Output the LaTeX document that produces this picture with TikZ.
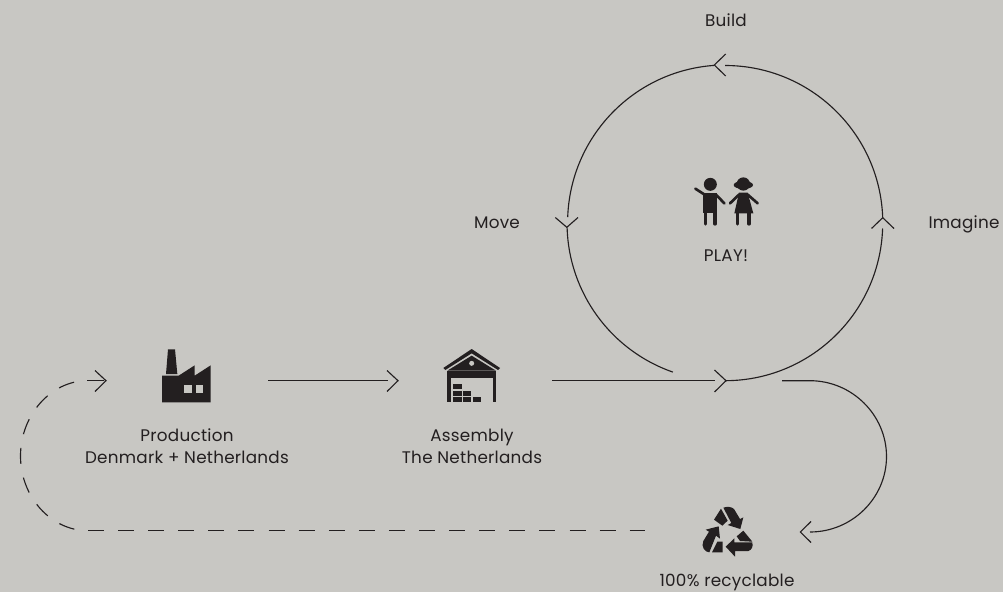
\documentclass[tikz,border=0pt]{standalone}
\usepackage{fontspec}
\setmainfont[LetterSpace=1.5]{Poppins}
\definecolor{bgc}{HTML}{C8C7C3}
\definecolor{ink}{HTML}{231F20}
\tikzset{
  lbl/.style={text=ink,font=\fontsize{12.6}{16.3}\selectfont,align=center,inner sep=0pt},
  lin/.style={draw=ink,line width=0.85pt,line cap=butt},
  chev/.style={draw=ink,line width=0.85pt,line join=miter},
  dsh/.style={draw=ink,line width=0.85pt},
  icon/.style={fill=ink,draw=none},
  cut/.style={fill=bgc,draw=none},
  zoomed/.style={x=0.25pt,y=-0.25pt}
}
\begin{document}
\begin{tikzpicture}[x=0.75pt,y=-0.75pt]
\fill[bgc] (0,0) rectangle (1003,592);
\useasboundingbox (0,0) rectangle (1003,592);
% labels
\node[lbl,anchor=base] (build) at (726,26.5) {Build};
\node[lbl,anchor=base] (move) at (497,228) {Move};
\node[lbl,anchor=base] (imagine) at (964,228) {Imagine};
\node[lbl,anchor=base] (play) at (726,261.5) {PLAY!};
\node[lbl] (prod) at (187,446) {Production\\Denmark + Netherlands};
\node[lbl] (asm) at (472,446) {Assembly\\The Netherlands};
\node[lbl,anchor=base] (rec) at (727,586.5) {100\% recyclable};
% coordinates
\coordinate (cbot) at (725,380.7);
\coordinate (ctip) at (726,380.7);
\coordinate (p1s) at (268,380.7);
\coordinate (p1w) at (387.5,380.7);
\coordinate (p1e) at (398,380.7);
\coordinate (p2s) at (552,380.7);
\coordinate (p2w) at (714.5,380.7);
\coordinate (q1) at (782,380.7);
\coordinate (q2) at (810,380.7);
\coordinate (q3) at (810,532);
\coordinate (d1) at (645,530.7);
\coordinate (d2) at (88,530.7);
\coordinate (d3) at (87.3,380.7);
\coordinate (d4) at (104,380.7);
\coordinate (d5) at (106,380.7);
% circle: four arcs, broken at the arrowheads
\draw[lin] (cbot) arc[start angle=90,end angle=2.0,radius=157.7];
\draw[lin] (882.7,217.7) arc[start angle=-2,end angle=-90,radius=157.7];
\draw[lin] (714.3,65.4) arc[start angle=-94,end angle=-178,radius=157.7];
\draw[lin] (567.1,227.3) arc[start angle=178.5,end angle=109.2,radius=157.7];
% arrows on circle
\draw[chev] (725.7,54) -- (714.3,65) -- (725.7,76);
\draw[chev] (555.3,217.5) -- (566.8,227.3) -- (578,217.5);
\draw[chev] (871.5,228.5) -- (882.7,217.7) -- (894,228.5);
% straight connectors
\draw[lin] (p1s) -- (p1w);
\draw[chev] (387,370.5) -- (p1e) -- (387,391.5);
\draw[lin] (p2s) -- (p2w);
\draw[chev] (714.5,370) -- (ctip) -- (714.5,392);
% right curve
\draw[lin] (q1) -- (q2) .. controls (852,380.7) and (886.5,415) .. (886.5,456.5) .. controls (886.5,498) and (852,532) .. (q3);
\draw[chev] (811,521.5) -- (800.3,532) -- (811,542.5);
% dashed return
\draw[dsh,dash pattern=on 12pt off 10.57pt] (d2) -- (d1);
\draw[dsh,dash pattern=on 12pt off 10.5pt,dash phase=12.5pt] (d3) .. controls (51,380.7) and (20.5,415) .. (20.5,456) .. controls (20.5,497) and (51,530.7) .. (d2);
\draw[lin] (d3) -- (d4);
\draw[chev] (95,370.5) -- (d5) -- (95,391.5);
% factory
\begin{scope}[shift={(140,340)},zoomed]
\fill[icon] (78,102) -- (84,28) -- (105,28) -- (112,102) -- cycle;
\fill[icon] (66,107) -- (116,107) -- (164,76) -- (164,107) -- (212,76) -- (212,187) -- (66,187) -- cycle;
\fill[cut] (133,136) rectangle (157,159);
\fill[cut] (167,136) rectangle (190,159);
\end{scope}
% warehouse
\begin{scope}[shift={(430,340)},zoomed]
\fill[icon] (125,27) -- (210,84) -- (204,90) -- (125,40) -- (46,90) -- (40,84) -- cycle;
\fill[icon] (125,47) -- (198,92) -- (52,92) -- cycle;
\fill[icon] (52,94) rectangle (198,114);
\fill[icon] (52,114) rectangle (62,187);
\fill[icon] (188,114) rectangle (198,187);
\fill[cut] (125,70) circle[radius=7.5];
\fill[icon] (70,133) rectangle (95,148);
\fill[icon] (70,152) rectangle (95,168);
\fill[icon] (99,152) rectangle (124,168);
\fill[icon] (70,172) rectangle (95,187);
\fill[icon] (99,172) rectangle (124,187);
\fill[icon] (128,172) rectangle (153,187);
\end{scope}
% recycle
\begin{scope}[shift={(690,495)},zoomed]
\fill[icon] (100,38) .. controls (112,34) and (125,35) .. (132,42) -- (150,72) -- (160,67) -- (151,102) -- (113,90) -- (124,84) -- cycle;
\fill[icon] (93,41) -- (113,77) -- (97,92) -- (72,74) -- cycle;
\fill[icon] (86,94) -- (90,131) -- (78,122) -- (58,172) .. controls (45,172) and (32,155) .. (40,138) -- (57,110) -- (47,104) -- cycle;
\fill[icon] (82,140) -- (98,140) -- (98,172) -- (66,172) -- cycle;
\fill[icon] (107,155) -- (133,130) -- (133,142) -- (187,142) .. controls (190,155) and (185,165) .. (175,168) -- (135,168) -- (135,185) -- cycle;
\fill[icon] (160,107) -- (187,140) -- (150,138) -- (140,124) -- cycle;
\end{scope}
% children
\begin{scope}[shift={(670,160)},zoomed]
\fill[icon] (121,73) circle[radius=19.5];
\draw[ink,line width=2pt,line cap=round] (76,86) -- (104,104);
\draw[ink,line width=2pt,line cap=round] (138,104) -- (163,130);
\fill[icon] (100,98) rectangle (142,160);
\draw[ink,line width=2.5pt,line cap=round] (107,155) -- (107,192);
\draw[ink,line width=2.5pt,line cap=round] (135,155) -- (135,192);
\fill[icon] (220,72) circle[radius=20];
\fill[icon] (220,75) ellipse[x radius=29,y radius=12];
\fill[icon] (207,98) -- (233,98) -- (250,160) -- (193,160) -- cycle;
\draw[ink,line width=2pt,line cap=round] (208,103) -- (180,130);
\draw[ink,line width=2pt,line cap=round] (232,103) -- (263,130);
\draw[ink,line width=2.5pt,line cap=round] (203,155) -- (203,192);
\draw[ink,line width=2.5pt,line cap=round] (237,155) -- (237,192);
\end{scope}
\end{tikzpicture}
\end{document}
